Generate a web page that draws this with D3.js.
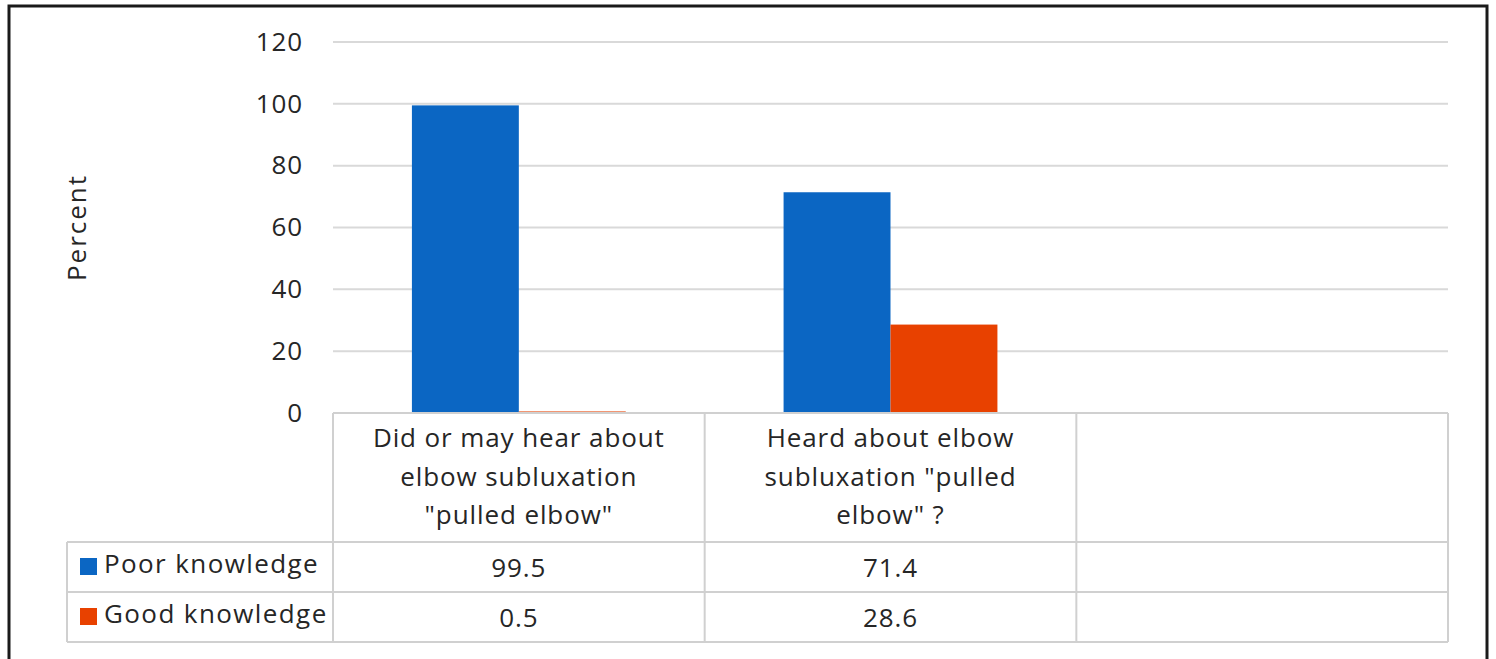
<!DOCTYPE html>
<html>
<head>
<meta charset="utf-8">
<script src="https://cdn.jsdelivr.net/npm/d3@7"></script>
<style>
  html, body { margin: 0; padding: 0; background: #fff; }
  svg { display: block; }
  text { font-family: "Open Sans", "DejaVu Sans", sans-serif; fill: #262626; }
</style>
</head>
<body>
<svg id="chart" width="1496" height="659"></svg>
<script>
// Category labels (one line per array entry); the third column is left empty
const categories = [
  ["Did or may hear about", "elbow subluxation", "\"pulled elbow\""],
  ["Heard about elbow", "subluxation \"pulled", "elbow\" ?"],
  []
];
const seriesNames = ["Poor knowledge", "Good knowledge"];
const poorKnowledge = [99.5, 71.4, null];
const goodKnowledge = [0.5, 28.6, null];
const yTicks = [0, 20, 40, 60, 80, 100, 120];
const yTitle = "Percent";

const colors = ["#0b66c3", "#e84100"];
const series = [poorKnowledge, goodKnowledge];

const svg = d3.select("#chart");
const fontSize = 26;
const spacing = 0.9;

// outer chart frame
svg.append("rect")
  .attr("x", 9).attr("y", 6)
  .attr("width", 1478).attr("height", 720)
  .attr("fill", "none").attr("stroke", "#1a1a1a").attr("stroke-width", 3);

const plotLeft = 333, plotRight = 1448, plotTop = 42, plotBottom = 413;
const headerBottom = 542, rowH = 50, legendLeft = 67;

const x0 = d3.scaleBand()
  .domain(d3.range(categories.length))
  .range([plotLeft, plotRight])
  .paddingInner(0).paddingOuter(0);

const x1 = d3.scaleBand()
  .domain(d3.range(series.length))
  .range([0, x0.bandwidth()])
  .paddingInner(0).paddingOuter(0.738);

const y = d3.scaleLinear().domain([0, 120]).range([plotBottom, plotTop]);

// gridlines
svg.append("g").selectAll("line")
  .data(yTicks.filter(t => t > 0))
  .join("line")
  .attr("x1", plotLeft).attr("x2", plotRight)
  .attr("y1", d => y(d)).attr("y2", d => y(d))
  .attr("stroke", "#d9d9d9").attr("stroke-width", 2);

// y axis tick labels
const yAxis = d3.axisLeft(y).tickValues(yTicks).tickSize(0).tickPadding(0);
const gy = svg.append("g")
  .attr("transform", `translate(${plotLeft - 30},0)`)
  .call(yAxis);
gy.select(".domain").remove();
gy.selectAll("text")
  .attr("font-size", fontSize)
  .attr("letter-spacing", spacing)
  .style("font-family", "\"Open Sans\", sans-serif")
  .attr("fill", "#262626");

// y axis title
svg.append("text")
  .attr("transform", `translate(86,${(plotTop + plotBottom) / 2}) rotate(-90)`)
  .attr("text-anchor", "middle")
  .attr("font-size", fontSize)
  .attr("letter-spacing", 2)
  .text(yTitle);

// bars
const barG = svg.append("g");
series.forEach((vals, si) => {
  barG.selectAll(null)
    .data(vals.map((v, ci) => ({ v, ci })).filter(d => d.v != null))
    .join("rect")
    .attr("x", d => x0(d.ci) + x1(si))
    .attr("width", x1.bandwidth())
    .attr("y", d => y(d.v))
    .attr("height", d => y(0) - y(d.v))
    .attr("fill", colors[si]);
});

// data table grid
const tableG = svg.append("g")
  .attr("stroke", "#d0d0d0").attr("stroke-width", 2).attr("fill", "none");
const tableBottom = headerBottom + rowH * series.length;
// horizontal lines
tableG.append("line").attr("x1", plotLeft).attr("x2", plotRight)
  .attr("y1", plotBottom).attr("y2", plotBottom);
d3.range(series.length + 1).forEach(i => {
  const yy = headerBottom + i * rowH;
  tableG.append("line").attr("x1", legendLeft).attr("x2", plotRight)
    .attr("y1", yy).attr("y2", yy);
});
// vertical lines
tableG.append("line").attr("x1", legendLeft).attr("x2", legendLeft)
  .attr("y1", headerBottom).attr("y2", tableBottom);
d3.range(categories.length + 1).forEach(i => {
  const xx = i < categories.length ? x0(i) : plotRight;
  tableG.append("line").attr("x1", xx).attr("x2", xx)
    .attr("y1", plotBottom).attr("y2", tableBottom);
});

// category header text
categories.forEach((lines, ci) => {
  const cx = x0(ci) + x0.bandwidth() / 2;
  lines.forEach((ln, li) => {
    svg.append("text")
      .attr("x", cx).attr("y", 438 + li * 38.5)
      .attr("dy", "0.35em")
      .attr("text-anchor", "middle")
      .attr("font-size", fontSize)
      .attr("letter-spacing", spacing)
      .text(ln);
  });
});

// legend keys and values in rows
series.forEach((vals, si) => {
  const rowMid = headerBottom + si * rowH + rowH / 2;
  svg.append("rect")
    .attr("x", 80).attr("y", rowMid - 8 - 1)
    .attr("width", 17).attr("height", 17)
    .attr("fill", colors[si]);
  svg.append("text")
    .attr("x", 104).attr("y", rowMid - 3)
    .attr("dy", "0.35em")
    .attr("font-size", fontSize)
    .attr("letter-spacing", 1.4)
    .text(seriesNames[si]);
  vals.forEach((v, ci) => {
    if (v == null) return;
    svg.append("text")
      .attr("x", x0(ci) + x0.bandwidth() / 2)
      .attr("y", rowMid + 1)
      .attr("dy", "0.35em")
      .attr("text-anchor", "middle")
      .attr("font-size", fontSize)
      .attr("letter-spacing", spacing)
      .text(v.toFixed(1));
  });
});
</script>
</body>
</html>
